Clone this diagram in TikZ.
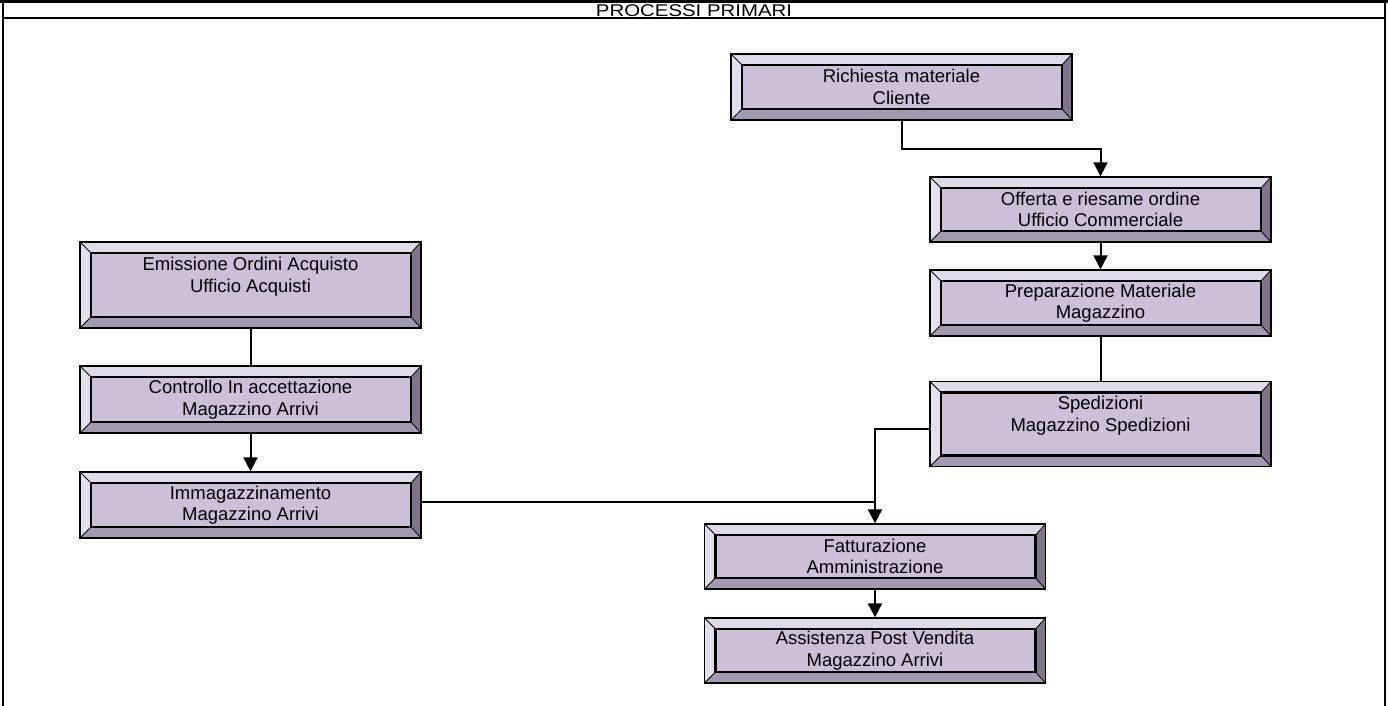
\documentclass[tikz,border=0pt]{standalone}
\usepackage{fontspec}
\setmainfont{Liberation Sans}
\usepackage{tikz}
\usetikzlibrary{arrows.meta,calc}
\newcommand\boxfont{\fontsize{18.5}{21.5}\selectfont}

\begin{document}
\begin{tikzpicture}
		[x=1pt,y=-1pt,line cap=butt,
		%Styles
		frame line/.style={line width=2.6pt},
		link/.style={line width=2pt},
		arrow link/.style={line width=2pt,-{Triangle[width=14pt,length=14pt]}},
		proc box/.style={draw,line width=1.3pt,fill=boxface,minimum width=341pt,inner sep=0pt,
			align=center,font=\boxfont,
			path picture={
				\coordinate (pnw) at (path picture bounding box.north west);
				\coordinate (pne) at (path picture bounding box.north east);
				\coordinate (pse) at (path picture bounding box.south east);
				\coordinate (psw) at (path picture bounding box.south west);
				\coordinate (inw) at ([shift={(11pt,-11pt)}]pnw);
				\coordinate (ine) at ([shift={(-10pt,-11pt)}]pne);
				\coordinate (ise) at ([shift={(-10pt,11pt)}]pse);
				\coordinate (isw) at ([shift={(11pt,11pt)}]psw);
				\fill[bevtop] (pnw) -- (pne) -- (ine) -- (inw) -- cycle;
				\fill[bevleft] (pnw) -- (inw) -- (isw) -- (psw) -- cycle;
				\fill[bevright] (pne) -- (ine) -- (ise) -- (pse) -- cycle;
				\fill[bevbot] (psw) -- (isw) -- (ise) -- (pse) -- cycle;
				\draw[line width=0.8pt] (pnw) -- (inw) (pne) -- (ine) (pse) -- (ise) (psw) -- (isw);
				\draw[line width=2.6pt] (inw) rectangle (ise);
			}},
		tall/.style={minimum height=#1,text depth=20pt}
		]
		
		%Colors
		\definecolor{boxface}{RGB}{204,192,217}
		\definecolor{bevtop}{RGB}{224,218,233}
		\definecolor{bevleft}{RGB}{228,223,236}
		\definecolor{bevright}{RGB}{127,117,138}
		\definecolor{bevbot}{RGB}{163,153,176}
		
		\useasboundingbox (0,0) rectangle (1388,706);
		
		%Frame and heading
		\draw[frame line] (0,1.3) -- (1388,1.3);
		\draw[line width=2.2pt] (3,0) -- (1385,0) (3,18) -- (1385,18);
		\draw[line width=1.6pt] (3,0) -- (3,706) (1385,0) -- (1385,706);
		\node (title) at (694,10.5) {\scalebox{1.2}[1]{\fontsize{17}{18}\selectfont PROCESSI PRIMARI}};
		
		%The graphic
		\node[proc box,minimum height=66pt] (rich) at (901.5, 87) {Richiesta materiale\\Cliente};
		\node[proc box,minimum height=65pt] (off) at (1100.5, 209.5) {Offerta e riesame ordine\\Ufficio Commerciale};
		\node[proc box,minimum height=66pt] (prep) at (1100.5, 303) {Preparazione Materiale\\Magazzino};
		\node[proc box,tall=85pt] (sped) at (1100.5, 424) {Spedizioni\\Magazzino Spedizioni};
		\node[proc box,tall=86pt] (emis) at (250.5, 285) {Emissione Ordini Acquisto\\Ufficio Acquisti};
		\node[proc box,minimum height=67pt] (ctrl) at (250.5, 399.5) {Controllo In accettazione\\Magazzino Arrivi};
		\node[proc box,minimum height=66pt] (imma) at (250.5, 505) {Immagazzinamento\\Magazzino Arrivi};
		\node[proc box,minimum height=65pt] (fatt) at (875, 556.5) {Fatturazione\\Amministrazione};
		\node[proc box,minimum height=65pt] (assi) at (875, 650.5) {Assistenza Post Vendita\\Magazzino Arrivi};
		
		\coordinate (join) at ($(imma.east -| fatt.north)+(0,-3)$);
		
		\draw[arrow link] (rich.south) -- ++(0,28) -| (off.north);
		\draw[arrow link] (off) -- (prep);
		\draw[link] (prep) -- (sped);
		\draw[link] (emis) -- (ctrl);
		\draw[arrow link] (ctrl) -- (imma);
		\draw[link] ($(imma.east)+(0,-3)$) -- (join);
		\draw[arrow link] ($(sped.west)+(0,5)$) -| (fatt.north);
		\draw[arrow link] (fatt) -- (assi);
	\end{tikzpicture}
\end{document}
